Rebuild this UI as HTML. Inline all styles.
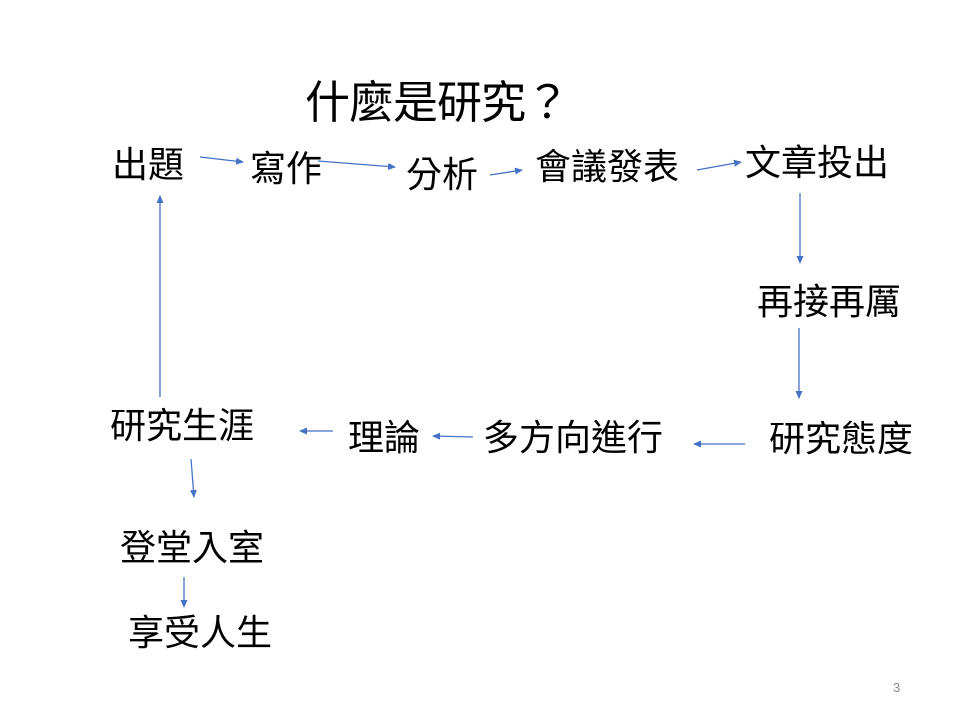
<!DOCTYPE html>
<html><head><meta charset="utf-8"><style>
body{margin:0;background:#fff;}
svg{display:block}
text{font-family:"Liberation Sans","Noto Sans CJK TC",sans-serif;fill:#000;}
</style></head><body>
<svg width="960" height="720" viewBox="0 0 960 720">
<defs><marker id="a" markerWidth="8" markerHeight="8" refX="7" refY="4" orient="auto" markerUnits="userSpaceOnUse"><path d="M0,0.5 L8,4 L0,7.5 Z" fill="#4472c4"/></marker></defs>
<text x="305" y="118" font-size="45" textLength="265">什麼是研究？</text>
<g font-size="36">
<text x="112" y="177">出題</text>
<text x="250" y="181">寫作</text>
<text x="406" y="187">分析</text>
<text x="535" y="179">會議發表</text>
<text x="745" y="175">文章投出</text>
<text x="757" y="314">再接再厲</text>
<text x="769" y="451">研究態度</text>
<text x="483" y="450">多方向進行</text>
<text x="348" y="450">理論</text>
<text x="110" y="438">研究生涯</text>
<text x="120" y="560">登堂入室</text>
<text x="128" y="645">享受人生</text>
</g>
<text x="893" y="692" font-size="13" style="fill:#888">3</text>
<g stroke="#4472c4" stroke-width="1.3" fill="none" marker-end="url(#a)">
<line x1="200" y1="157" x2="243" y2="162"/>
<line x1="318" y1="161" x2="395" y2="167"/>
<line x1="490" y1="175" x2="522" y2="170"/>
<line x1="697" y1="170" x2="741" y2="162"/>
<line x1="800" y1="193" x2="800" y2="263"/>
<line x1="799" y1="328" x2="799" y2="398"/>
<line x1="745" y1="444" x2="694" y2="444"/>
<line x1="473" y1="437" x2="433" y2="436"/>
<line x1="333" y1="431" x2="300" y2="431"/>
<line x1="160" y1="397" x2="160" y2="196"/>
<line x1="191" y1="459" x2="194" y2="497"/>
<line x1="184" y1="577" x2="184" y2="607"/>
</g>
</svg>
</body></html>
